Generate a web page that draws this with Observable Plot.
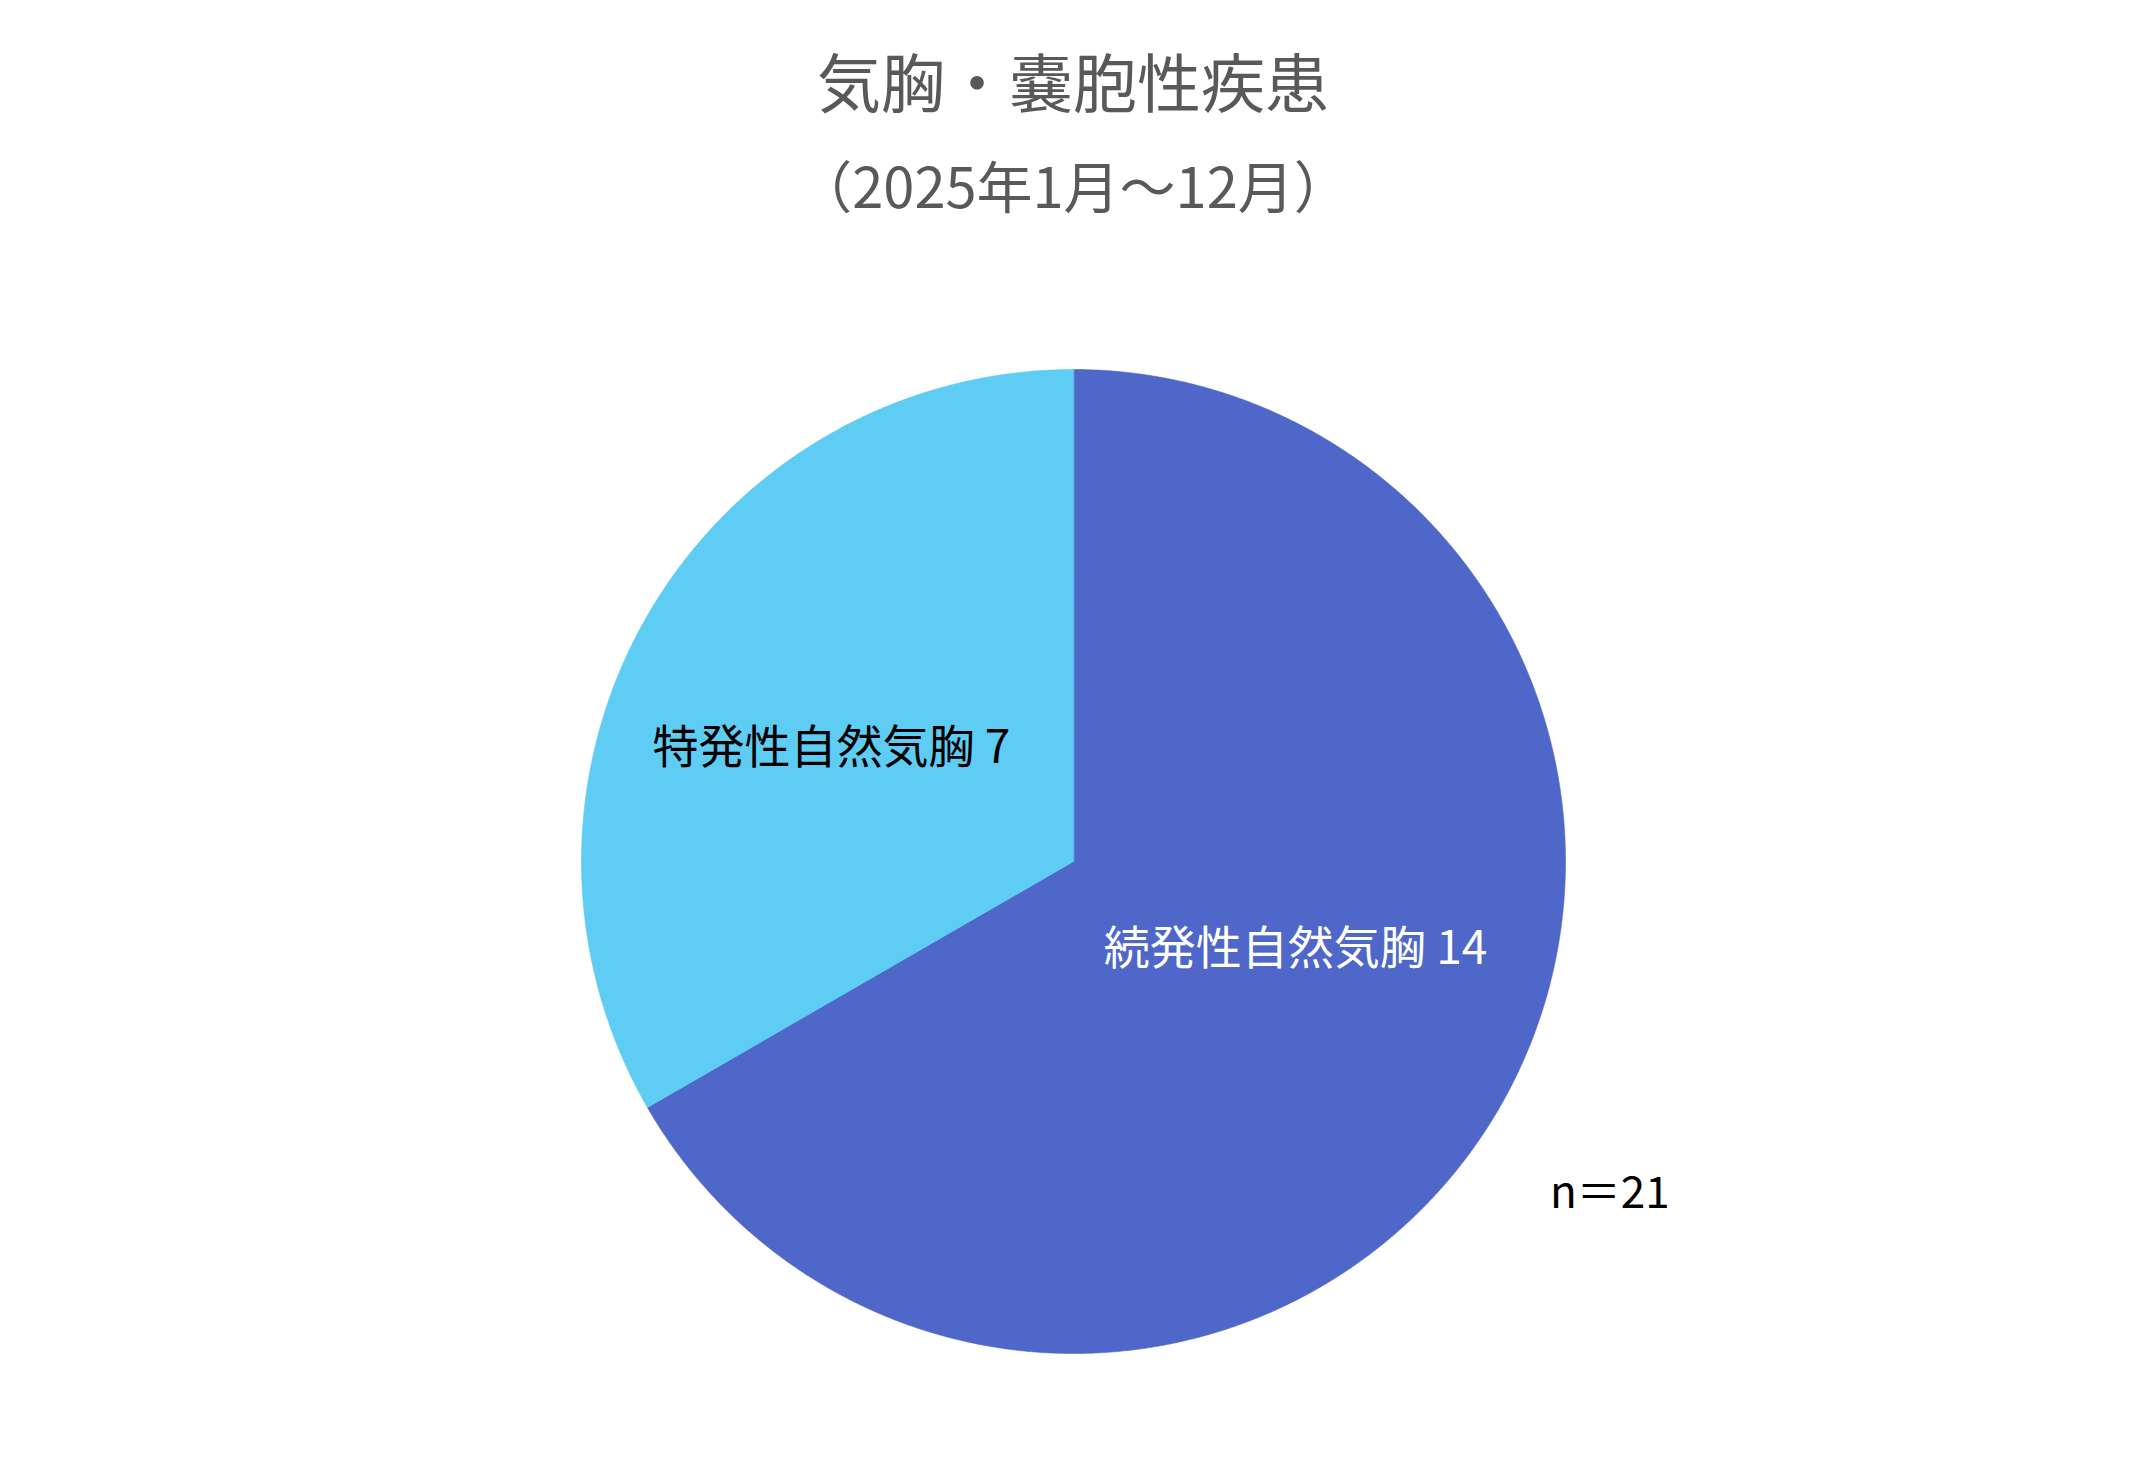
<!DOCTYPE html>
<html>
<head>
<meta charset="utf-8">
<script src="https://cdn.jsdelivr.net/npm/d3@7"></script>
<script src="https://cdn.jsdelivr.net/npm/@observablehq/plot@0.6"></script>
<style>
  html, body { margin: 0; padding: 0; background: #ffffff; }
  #wrap { position: relative; width: 2146px; height: 1481px; overflow: hidden;
          font-family: "Noto Sans CJK JP", "Noto Sans", sans-serif; }
  #chart { position: absolute; left: 0; top: 0; }
  .ttl { position: absolute; left: 0; width: 2146px; text-align: center; color: #595959;
         line-height: 1; white-space: nowrap; }
  #note { position: absolute; color: #000; font-size: 44px; line-height: 1; white-space: nowrap; }
</style>
</head>
<body>
<div id="wrap">
  <div id="chart"></div>
  <div class="ttl" id="title" style="top:47px;font-size:64px;"></div>
  <div class="ttl" id="subtitle" style="top:156px;font-size:56px;"></div>
  <div id="note" style="left:1550px;top:1167px;"></div>
</div>
<script>
// ---- data ----
const categories = ["続発性自然気胸", "特発性自然気胸"];
const counts = [14, 7];
const sliceColors = ["#4E67C8", "#5ECCF3"];
const labelColors = ["#ffffff", "#000000"];
const titleText = "気胸・嚢胞性疾患";
const subtitleText = "（2025年1月～12月）";

// ---- derived ----
const total = d3.sum(counts);
document.getElementById("title").textContent = titleText;
document.getElementById("subtitle").textContent = subtitleText;
document.getElementById("note").textContent = `n＝${total}`;

const arcs = d3.pie().sort(null).value(d => d)(counts);
const slices = arcs.map((a, i) => ({
  cat: categories[i],
  value: counts[i],
  start: a.startAngle,
  end: a.endAngle,
  mid: (a.startAngle + a.endAngle) / 2,
  labelColor: labelColors[i],
  label: `${categories[i]} ${counts[i]}`
}));

// polygon outline of each slice in unit coordinates (angle 0 at 12 o'clock, clockwise)
const outline = [];
for (const s of slices) {
  outline.push({cat: s.cat, x: 0, y: 0});
  const n = Math.max(2, Math.ceil((s.end - s.start) / (Math.PI / 720)));
  for (let k = 0; k <= n; k++) {
    const a = s.start + (s.end - s.start) * k / n;
    outline.push({cat: s.cat, x: Math.sin(a), y: Math.cos(a)});
  }
}
const labelR = 0.5;
const lx = d => labelR * Math.sin(d.mid);
const ly = d => labelR * Math.cos(d.mid);

const cx = 1073, cy = 861, R = 492;

const plot = Plot.plot({
  width: 2146,
  height: 1481,
  margin: 0,
  style: {background: "transparent", fontFamily: "'Noto Sans CJK JP', sans-serif"},
  x: {domain: [-1, 1], range: [cx - R, cx + R], axis: null},
  y: {domain: [-1, 1], range: [cy + R, cy - R], axis: null},
  color: {domain: categories, range: sliceColors},
  marks: [
    Plot.line(outline, {x: "x", y: "y", z: "cat", fill: "cat", stroke: "cat", strokeWidth: 0.6, curve: "linear-closed"}),
    Plot.text(slices, {filter: (d, i) => i === 0, x: lx, y: ly, text: "label", fill: "labelColor",
      fontSize: 46, dx: 9, dy: -35, textAnchor: "middle", lineAnchor: "middle"}),
    Plot.text(slices, {filter: (d, i) => i === 1, x: lx, y: ly, text: "label", fill: "labelColor",
      fontSize: 46, dx: -29, dy: 10, textAnchor: "middle", lineAnchor: "middle"})
  ]
});
document.getElementById("chart").appendChild(plot);
</script>
</body>
</html>
